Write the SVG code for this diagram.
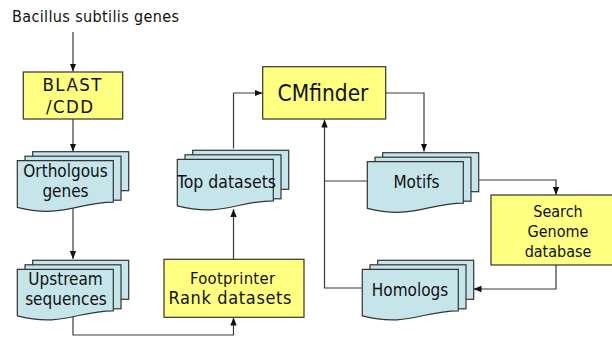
<svg xmlns="http://www.w3.org/2000/svg" xmlns:xlink="http://www.w3.org/1999/xlink" width="612" height="340" viewBox="0 0 612 340">
  <style>
    .proc { fill: #ffff80; stroke: #333333; stroke-width: 1.2; }
    .sheet { fill: #c6e5ea; stroke: #333333; stroke-width: 1.2; }
    .lbl { font-family: "DejaVu Sans Condensed", "DejaVu Sans", sans-serif; fill: #111111; text-anchor: middle; font-size: 17px; }
    .conn { fill: none; stroke: #3a3a3a; stroke-width: 1.2; }
  </style>
  <defs>
    <marker id="arrow" markerUnits="userSpaceOnUse" markerWidth="8" markerHeight="8" viewBox="0 0 8 8" refX="8" refY="4" orient="auto">
      <path d="M0,0.8 L8,4 L0,7.2 z" fill="#111111"/>
    </marker>
    <!-- stacked document shape, origin at top-left of the front sheet -->
    <g id="multidoc">
      <rect class="sheet" x="15.4" y="-9" width="96" height="39"/>
      <rect class="sheet" x="7.7" y="-4.5" width="96" height="44"/>
      <path class="sheet" d="M0,0 H96 V41.5 C60,41.5 45,58 0,46.6 Z"/>
    </g>
  </defs>

  <g id="connectors">
    <path class="conn" d="M73,32 V71.5" marker-end="url(#arrow)"/>
    <path class="conn" d="M73,119 V151.5" marker-end="url(#arrow)"/>
    <path class="conn" d="M73,208 V259" marker-end="url(#arrow)"/>
    <path class="conn" d="M73,316 V335 H233.5 V317.5" marker-end="url(#arrow)"/>
    <path class="conn" d="M233.5,259 V209" marker-end="url(#arrow)"/>
    <path class="conn" d="M233.5,148.5 V93 H262.5" marker-end="url(#arrow)"/>
    <path class="conn" d="M385.7,93 H424 V151.5" marker-end="url(#arrow)"/>
    <path class="conn" d="M478.7,180 H556 V195" marker-end="url(#arrow)"/>
    <path class="conn" d="M556,265 V289 H473.5" marker-end="url(#arrow)"/>
    <path class="conn" d="M367.3,181 H324.5"/>
    <path class="conn" d="M362.3,288 H324.5 V119.5" marker-end="url(#arrow)"/>
  </g>

  <g id="source">
    <text class="lbl" x="95.5" y="22" style="font-size:16px" textLength="167">Bacillus subtilis genes</text>
  </g>

  <g id="blast">
    <rect class="proc" x="23.3" y="72" width="99.4" height="47"/>
    <text class="lbl" x="72" y="90.5" style="font-size:18.5px" textLength="59">BLAST</text>
    <text class="lbl" x="69.5" y="112.5" style="font-size:18.5px" textLength="47">/CDD</text>
  </g>

  <g id="orthologous">
    <use xlink:href="#multidoc" x="17.3" y="160.7"/>
    <text class="lbl" x="65.5" y="177">Ortholgous</text>
    <text class="lbl" x="65.5" y="197">genes</text>
  </g>

  <g id="upstream">
    <use xlink:href="#multidoc" x="17.3" y="269.3"/>
    <text class="lbl" x="65.5" y="285">Upstream</text>
    <text class="lbl" x="66" y="305">sequences</text>
  </g>

  <g id="footprinter">
    <rect class="proc" x="164" y="259.3" width="140" height="58"/>
    <text class="lbl" x="232.5" y="283.5" style="font-size:16.5px" textLength="85">Footprinter</text>
    <text class="lbl" x="230" y="304" style="font-size:18px" textLength="123">Rank datasets</text>
  </g>

  <g id="top-datasets">
    <use xlink:href="#multidoc" x="177.3" y="159.3"/>
    <text class="lbl" x="226.5" y="187.5" style="font-size:17.5px" textLength="99">Top datasets</text>
  </g>

  <g id="cmfinder">
    <rect class="proc" x="262.7" y="66.7" width="123" height="52.3"/>
    <text class="lbl" x="323" y="100.5" style="font-size:22.5px">CMfinder</text>
  </g>

  <g id="motifs">
    <use xlink:href="#multidoc" x="367.3" y="161.7"/>
    <text class="lbl" x="416.5" y="187.5">Motifs</text>
  </g>

  <g id="search">
    <rect class="proc" x="491" y="195" width="134" height="70"/>
    <text class="lbl" x="558" y="216.7" style="font-size:16px">Search</text>
    <text class="lbl" x="558" y="237.3" style="font-size:16px">Genome</text>
    <text class="lbl" x="558" y="257.3" style="font-size:16px">database</text>
  </g>

  <g id="homologs">
    <use xlink:href="#multidoc" x="362.3" y="269.3"/>
    <text class="lbl" x="410" y="296">Homologs</text>
  </g>
</svg>
